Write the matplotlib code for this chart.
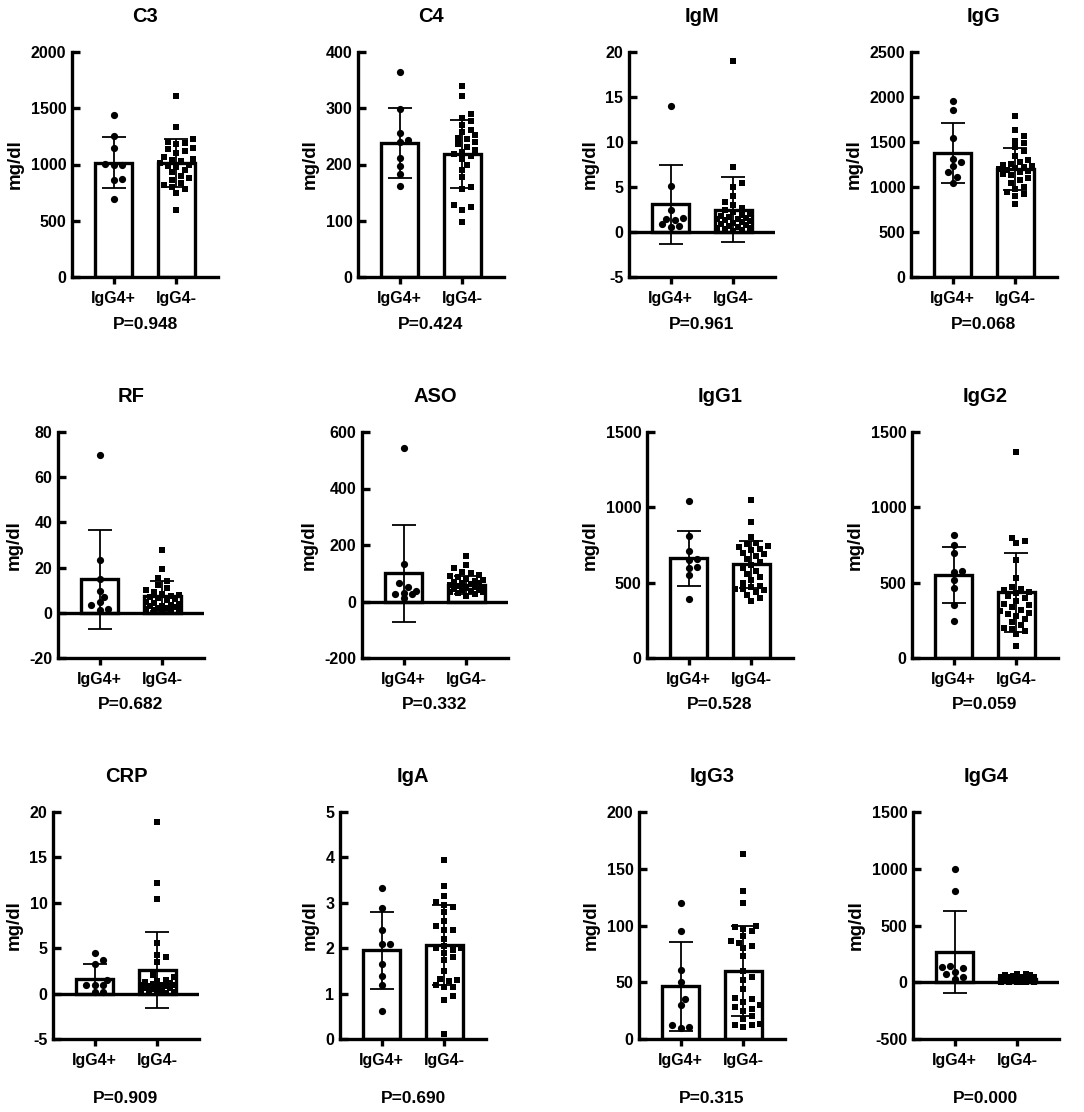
import numpy as np
import matplotlib
matplotlib.use('Agg')
import matplotlib.pyplot as plt

plt.rcParams['font.family'] = ['Liberation Sans', 'DejaVu Sans']
plt.rcParams['font.weight'] = 'bold'
plt.rcParams['axes.unicode_minus'] = False

W, H = 1084, 1112

titles = ['C3', 'C4', 'IgM', 'IgG', 'RF', 'ASO', 'IgG1', 'IgG2', 'CRP', 'IgA', 'IgG3', 'IgG4']
p_values = ['0.948', '0.424', '0.961', '0.068', '0.682', '0.332', '0.528', '0.059',
            '0.909', '0.690', '0.315', '0.000']
groups = ['IgG4+', 'IgG4-']

c3_pos = [1437, 1250, 1147, 1005, 1000, 995, 874, 859, 690]
c3_neg = [1609, 1330, 1225, 1200, 1190, 1180, 1150, 1140, 1120, 1100, 1070, 1050, 1040, 1030, 1010,
          1000, 990, 980, 950, 930, 900, 880, 860, 840, 820, 800, 780, 750, 600]
c4_pos = [364, 299, 256, 243, 240, 212, 197, 184, 162]
c4_neg = [340, 322, 290, 282, 277, 270, 262, 258, 252, 248, 245, 240, 236, 232, 226, 222, 218, 215,
          210, 200, 190, 178, 160, 157, 128, 125, 120, 97]
igm_pos = [14.0, 5.1, 2.5, 1.6, 1.5, 1.3, 0.9, 0.7, 0.6]
igm_neg = [19.0, 7.2, 5.5, 5.0, 4.0, 3.3, 3.0, 2.7, 2.5, 2.2, 2.0, 1.9, 1.8, 1.7, 1.6, 1.5, 1.4, 1.3,
           1.2, 1.1, 1.0, 0.9, 0.8, 0.7, 0.6, 0.5, 0.4, 0.3, 0.2, 0.1]
igg_pos = [1960, 1850, 1540, 1310, 1280, 1230, 1165, 1110, 1045]
igg_neg = [1785, 1630, 1570, 1515, 1490, 1440, 1400, 1350, 1300, 1280, 1260, 1245, 1230, 1220, 1210,
           1200, 1190, 1180, 1165, 1150, 1130, 1100, 1080, 1050, 1000, 980, 950, 920, 900, 815]
rf_pos = [70, 23.5, 15, 9.5, 7, 4.7, 3.4, 1.6, 1.2]
rf_neg = [28, 19.5, 15.5, 14, 12.5, 11, 10, 9, 8.5, 8, 7.5, 7, 6.5, 6, 5.5, 5, 4.5, 4, 3.5, 3, 2.8,
          2.5, 2.2, 2, 1.8, 1.5, 1.2, 1, 0.8]
aso_pos = [545, 133, 65, 52, 38, 30, 27, 25, 11]
aso_neg = [160, 130, 118, 105, 100, 95, 90, 85, 80, 76, 72, 70, 67, 64, 61, 58, 55, 52, 50, 47, 44,
           42, 40, 37, 35, 32, 29, 25, 20]
igg1_pos = [1040, 810, 710, 660, 650, 605, 600, 550, 390]
igg1_neg = [1050, 900, 805, 765, 755, 745, 735, 725, 715, 700, 690, 680, 660, 640, 620, 600, 580,
            560, 540, 520, 500, 480, 470, 460, 455, 450, 440, 420, 400, 380]
igg2_pos = [815, 750, 700, 580, 570, 518, 463, 353, 243]
igg2_neg = [1370, 795, 775, 760, 650, 530, 470, 460, 450, 440, 430, 410, 400, 380, 360, 350, 340,
            320, 310, 300, 290, 280, 260, 240, 220, 200, 195, 180, 160, 77]
crp_pos = [4.5, 3.7, 3.3, 1.5, 1.0, 0.95, 0.9, 0.2, 0.15]
crp_neg = [18.9, 12.2, 10.4, 5.6, 4.3, 4.0, 3.5, 2.0, 1.8, 1.5, 1.4, 1.3, 1.2, 1.1, 1.0, 0.9, 0.9,
           0.8, 0.8, 0.7, 0.6, 0.6, 0.5, 0.4, 0.3, 0.2, 0.2, 0.1, 0.1]
iga_pos = [3.33, 2.88, 2.4, 2.1, 2.1, 1.66, 1.39, 1.2, 0.62]
iga_neg = [3.95, 3.38, 3.15, 3.02, 2.95, 2.9, 2.8, 2.6, 2.5, 2.4, 2.4, 2.2, 2.05, 2.0, 2.0, 1.95, 1.9,
           1.8, 1.75, 1.5, 1.32, 1.3, 1.28, 1.2, 1.15, 1.15, 0.95, 0.85, 0.1]
igg3_pos = [120, 95, 61, 50, 35, 30, 12.5, 11, 9.5]
igg3_neg = [163, 130, 120, 100, 99, 97, 95, 91, 86, 85, 82, 80, 73, 60, 55, 52, 44, 36, 35, 33, 30,
            28, 26, 25, 20, 18, 13, 12, 12, 11]
igg4_pos = [1000, 800, 144, 130, 124, 94, 74, 50, 32]
igg4_neg = [75, 70, 65, 60, 55, 50, 48, 45, 42, 40, 38, 35, 32, 30, 28, 25, 22, 20, 18, 15, 12, 10,
            8, 6, 5, 4, 3, 2, 1]

# bar heights (mean) and error bars (SD)
mean_pos = [1016, 238, 3.06, 1377, 14.8, 100, 662, 551, 1.58, 1.95, 46.4, 268]
sd_pos = [225, 62, 4.35, 330, 22, 171, 182, 186, 1.72, 0.85, 39.5, 360]
mean_neg = [1013, 219, 2.47, 1200, 7.4, 58, 622, 435, 2.58, 2.08, 60.2, 32]
sd_neg = [214, 61, 3.6, 236, 6.5, 32, 157, 260, 4.2, 0.88, 39.6, 20]

y_min = [0, 0, -5, 0, -20, -200, 0, 0, -5, 0, 0, -500]
y_max = [2000, 400, 20, 2500, 80, 600, 1500, 1500, 20, 5, 200, 1500]
y_step = [500, 100, 5, 500, 20, 200, 500, 500, 5, 1, 50, 500]

pos_data = [c3_pos, c4_pos, igm_pos, igg_pos, rf_pos, aso_pos, igg1_pos, igg2_pos,
            crp_pos, iga_pos, igg3_pos, igg4_pos]
neg_data = [c3_neg, c4_neg, igm_neg, igg_neg, rf_neg, aso_neg, igg1_neg, igg2_neg,
            crp_neg, iga_neg, igg3_neg, igg4_neg]

# layout in pixels
row_top = [52, 432, 812]
row_bot = [277, 658, 1039]
p_base = [329, 709, 1103]
col_left = [[72, 358, 629, 911], [58, 362, 647, 912], [53, 340, 639, 913]]
AX_W = 146
XPPU = 63.0  # pixels between the two bars
XL, XR = -0.66, 1.66


def swarm(vals, yppu, d=7.0, limit=20.0):
    # beeswarm kept inside +-limit px; when crowded, take the least crowded slot
    vals = np.asarray(vals, float)
    order = np.argsort(vals)
    xs = np.zeros(len(vals))
    placed = []
    step = d * 0.6
    cands = [0.0]
    k = 1
    while k * step <= limit:
        cands += [k * step, -k * step]
        k += 1
    for i in order:
        y = vals[i] * yppu
        best, best_gap = 0.0, -1.0
        for off in cands:
            gap = min([np.hypot(off - px, y - py) for px, py in placed] + [99.0])
            if gap >= d * 0.95:
                best = off
                break
            if gap > best_gap:
                best, best_gap = off, gap
        placed.append((best, y))
        xs[i] = best / XPPU
    return xs


fig = plt.figure(figsize=(W / 100, H / 100), dpi=100)

for n in range(12):
    r, c = divmod(n, 4)
    left = col_left[r][c]
    top, bot = row_top[r], row_bot[r]
    ax = fig.add_axes([left / W, 1 - bot / H, AX_W / W, (bot - top) / H])
    ymin, ymax = y_min[n], y_max[n]
    yppu = (bot - top) / (ymax - ymin)

    ax.bar([0, 1], [mean_pos[n], mean_neg[n]], width=0.6, color='white', edgecolor='black',
           linewidth=2.4, zorder=2)
    ax.errorbar([0, 1], [mean_pos[n], mean_neg[n]], yerr=[sd_pos[n], sd_neg[n]], fmt='none',
                ecolor='black', elinewidth=1.3, capsize=8.5, capthick=1.3, zorder=3)
    xp = swarm(pos_data[n], yppu, limit=16)
    xn = swarm(neg_data[n], yppu, limit=20)
    ax.scatter(0 + xp, pos_data[n], marker='o', s=27, color='black', linewidths=0, zorder=4)
    ax.scatter(1 + xn, neg_data[n], marker='s', s=25, color='black', linewidths=0, zorder=4)
    if ymin < 0:
        ax.axhline(0, color='black', linewidth=2.4, zorder=5)

    ax.set_xlim(XL, XR)
    ax.set_ylim(ymin, ymax)
    ax.set_yticks(np.arange(ymin, ymax + y_step[n] / 2, y_step[n]))
    ax.set_xticks([0, 1])
    ax.set_xticklabels(groups)
    for s in ['top', 'right']:
        ax.spines[s].set_visible(False)
    for s in ['left', 'bottom']:
        ax.spines[s].set_linewidth(2.4)
    ax.tick_params(axis='y', direction='in', length=6, width=2.4, pad=4, labelsize=11.5)
    ax.tick_params(axis='x', direction='out', length=5, width=2.4, pad=5, labelsize=11.5)
    ax.set_ylabel('mg/dl', fontsize=13.5, fontweight='bold', labelpad=5)
    ax.patch.set_alpha(0)

    cx = (left + AX_W / 2) / W
    fig.text(cx, 1 - (top - 30) / H, titles[n], ha='center', va='baseline', fontsize=14.5,
             fontweight='bold')
    fig.text(cx, 1 - p_base[r] / H, 'P=' + p_values[n], ha='center', va='baseline',
             fontsize=12.5, fontweight='bold')

fig.savefig('out.png', dpi=100)
